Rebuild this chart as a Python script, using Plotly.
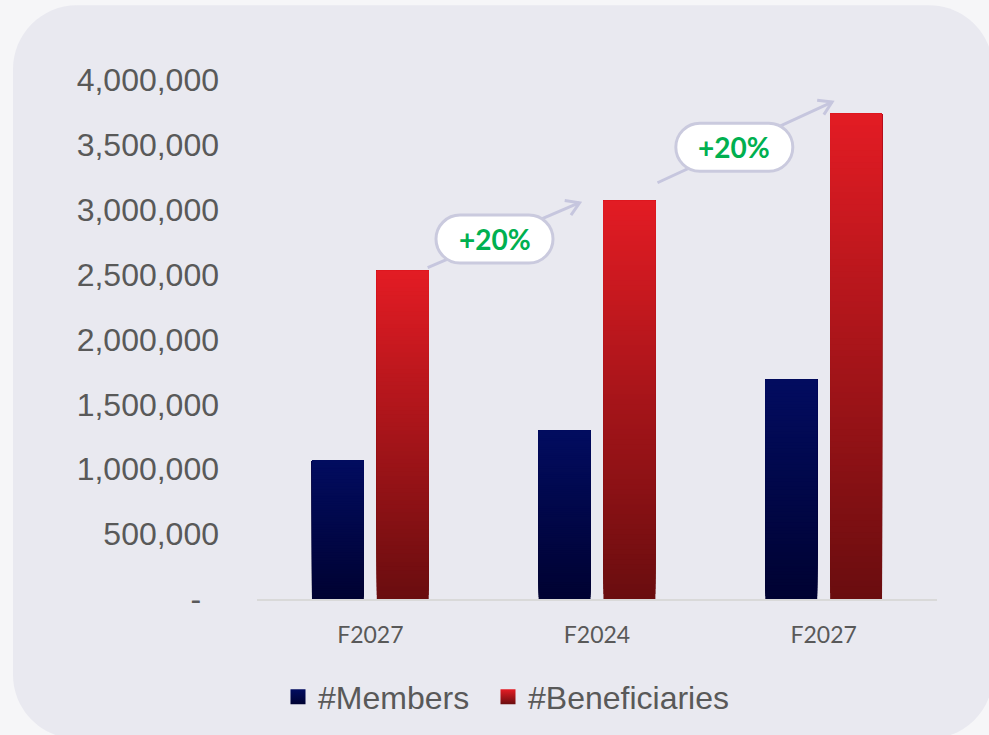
import plotly.graph_objects as go
import numpy as np

# ---------------- data ----------------
categories = ["F2027", "F2024", "F2027"]
members = [1070000, 1300000, 1690000]
beneficiaries = [2530000, 3070000, 3740000]
growth_labels = ["+20%", "+20%"]
y_tickvals = [0, 500000, 1000000, 1500000, 2000000, 2500000, 3000000, 3500000, 4000000]
y_ticktext = ["-\u00a0\u00a0", "500,000", "1,000,000", "1,500,000", "2,000,000",
              "2,500,000", "3,000,000", "3,500,000", "4,000,000"]

# ---------------- styling / layout constants ----------------
W, H = 989, 735
ML, MR, MT, MB = 257, 52, 80, 135
PW, PH = W - ML - MR, H - MT - MB
YMAX = 4000000
XR = (-0.5, 2.5)
px_x = PW / (XR[1] - XR[0])
px_y = PH / YMAX

BAR_W = 0.229
OFF = 0.143
NSEG = 80

MEM_TOP, MEM_BOT = (2, 12, 96), (0, 2, 50)
BEN_TOP, BEN_BOT = (228, 28, 36), (106, 13, 15)

def lerp(c1, c2, t):
    return "rgb(%d,%d,%d)" % tuple(round(a + (b - a) * t) for a, b in zip(c1, c2))

def gradient_bar(xpos, values, ctop, cbot, name):
    xs, bases, ys, cols = [], [], [], []
    for k in range(NSEG):
        f = k / NSEG
        for x, v in zip(xpos, values):
            xs.append(x)
            bases.append(v * f)
            ys.append(v * (1 - f))
            cols.append(lerp(cbot, ctop, f))
    return go.Bar(x=xs, y=ys, base=bases, width=BAR_W,
                  marker=dict(color=cols, line=dict(width=0)),
                  showlegend=False, name=name, hoverinfo="skip")

idx = list(range(len(categories)))
mem_x = [i - OFF for i in idx]
ben_x = [i + OFF for i in idx]

fig = go.Figure()
fig.add_trace(gradient_bar(mem_x, members, MEM_TOP, MEM_BOT, "#Members"))
fig.add_trace(gradient_bar(ben_x, beneficiaries, BEN_TOP, BEN_BOT, "#Beneficiaries"))

# legend entries (gradient squares), one legend box each
for name, ctop, cbot, lg in [("#Members", MEM_TOP, MEM_BOT, "legend"),
                             ("#Beneficiaries", BEN_TOP, BEN_BOT, "legend2")]:
    fig.add_trace(go.Scatter(x=[None], y=[None], mode="markers", name=name, legend=lg,
                             marker=dict(symbol="square", size=15, color=lerp(cbot, ctop, 1),
                                         gradient=dict(type="vertical", color=lerp(cbot, ctop, 0)),
                                         line=dict(width=0))))

shapes = []

# rounded panel background (pixel geometry -> paper coords)
def to_paper(px, py):
    return ((px - ML) / PW, (H - MB - py) / PH)

def rounded_rect_path(x0, y0, x1, y1, r):
    k = 0.5523 * r
    def P(x, y):
        a, b = to_paper(x, y)
        return "%.5f,%.5f" % (a, b)
    p = "M" + P(x0 + r, y0)
    p += " L" + P(x1 - r, y0)
    p += " C" + P(x1 - r + k, y0) + " " + P(x1, y0 + r - k) + " " + P(x1, y0 + r)
    p += " L" + P(x1, y1 - r)
    p += " C" + P(x1, y1 - r + k) + " " + P(x1 - r + k, y1) + " " + P(x1 - r, y1)
    p += " L" + P(x0 + r, y1)
    p += " C" + P(x0 + r - k, y1) + " " + P(x0, y1 - r + k) + " " + P(x0, y1 - r)
    p += " L" + P(x0, y0 + r)
    p += " C" + P(x0, y0 + r - k) + " " + P(x0 + r - k, y0) + " " + P(x0 + r, y0)
    return p + " Z"

shapes.append(dict(type="path", xref="paper", yref="paper",
                   path=rounded_rect_path(13, 5, 993, 740, 64),
                   fillcolor="#e9e9f0", line=dict(width=0), layer="below"))

# growth arrows between beneficiaries bars (decoration geometry)
arrows = [((0.253, 2554000), (0.923, 3054000)),
          ((1.267, 3208000), (2.037, 3830000))]
ARROW_COL = "#c6c6de"
pill_pos = []
for (x0, y0), (x1, y1) in arrows:
    shapes.append(dict(type="line", xref="x", yref="y", x0=x0, y0=y0, x1=x1, y1=y1,
                       line=dict(color=ARROW_COL, width=3), layer="above"))
    dxp = (x1 - x0) * px_x
    dyp = (y1 - y0) * px_y  # upward positive
    ang = np.arctan2(dyp, dxp)
    L = 15
    a1 = ang + np.pi - np.radians(32)
    a2 = ang + np.pi + np.radians(32)
    path = "M%.2f,%.2f L0,0 L%.2f,%.2f" % (L * np.cos(a1), L * np.sin(a1), L * np.cos(a2), L * np.sin(a2))
    shapes.append(dict(type="path", xref="x", yref="y", xsizemode="pixel", ysizemode="pixel",
                       xanchor=x1, yanchor=y1, path=path,
                       line=dict(color=ARROW_COL, width=3), layer="above"))
    t = 0.44
    pill_pos.append((x0 + t * (x1 - x0), y0 + t * (y1 - y0)))

def pill_path(w, h):
    r = h / 2
    k = 0.5523 * r
    hx = w / 2 - r
    return ("M%.2f,%.2f L%.2f,%.2f C%.2f,%.2f %.2f,%.2f %.2f,0 C%.2f,%.2f %.2f,%.2f %.2f,%.2f "
            "L%.2f,%.2f C%.2f,%.2f %.2f,%.2f %.2f,0 C%.2f,%.2f %.2f,%.2f %.2f,%.2f Z") % (
        -hx, r, hx, r,
        hx + k, r, hx + r, k, hx + r,
        hx + r, -k, hx + k, -r, hx, -r,
        -hx, -r,
        -hx - k, -r, -hx - r, -k, -hx - r,
        -hx - r, k, -hx - k, r, -hx, r)

annotations = []
for (px_, py_), lab in zip(pill_pos, growth_labels):
    shapes.append(dict(type="path", xref="x", yref="y", xsizemode="pixel", ysizemode="pixel",
                       xanchor=px_, yanchor=py_, path=pill_path(117, 48),
                       fillcolor="white", line=dict(color="#cacade", width=3), layer="above"))
    annotations.append(dict(x=px_, y=py_, xref="x", yref="y", text="<b>%s</b>" % lab,
                            showarrow=False, font=dict(family="Lato", size=28, color="#00b050"),
                            xanchor="center", yanchor="middle"))

legend_style = dict(orientation="h", xanchor="left", y=-97 / PH, yanchor="middle",
                    font=dict(family="Liberation Sans, Arial", size=32, color="#595959"),
                    bgcolor="rgba(0,0,0,0)", itemwidth=30)

fig.update_layout(
    width=W, height=H,
    margin=dict(l=ML, r=MR, t=MT, b=MB, pad=0),
    paper_bgcolor="#f6f6f8",
    plot_bgcolor="rgba(0,0,0,0)",
    barmode="overlay",
    shapes=shapes,
    annotations=annotations,
    showlegend=True,
    legend=dict(x=(278 - ML) / PW, **legend_style),
    legend2=dict(x=(488 - ML) / PW, **legend_style),
    xaxis=dict(range=list(XR), tickmode="array", tickvals=idx, ticktext=categories,
               showgrid=False, zeroline=False, showline=True, linecolor="#d9d9d9", linewidth=2,
               ticks="", tickfont=dict(family="Lato", size=23, color="#595959"),
               ticklabelstandoff=14, fixedrange=True),
    yaxis=dict(range=[0, YMAX], tickmode="array", tickvals=y_tickvals, ticktext=y_ticktext,
               showgrid=False, zeroline=False, showline=False, ticks="",
               tickfont=dict(family="Liberation Sans, Arial", size=32, color="#595959"),
               ticklabelstandoff=37, fixedrange=True),
)

fig.write_html("out.html")
